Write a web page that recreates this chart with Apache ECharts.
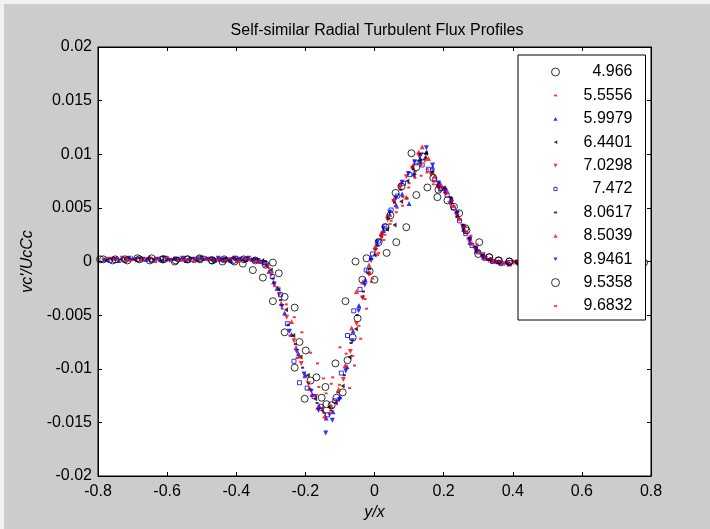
<!DOCTYPE html>
<html>
<head>
<meta charset="utf-8">
<script src="https://cdn.jsdelivr.net/npm/echarts@6/dist/echarts.min.js"></script>
<style>
html,body{margin:0;padding:0;background:#cccccc;}
#chart{width:710px;height:529px;}
</style>
</head>
<body>
<div id="chart"></div>
<script>
// ---- tick labels ----
const xTickLabels = ['-0.8','-0.6','-0.4','-0.2','0','0.2','0.4','0.6','0.8'];
const yTickLabels = ['-0.02','-0.015','-0.01','-0.005','0','0.005','0.01','0.015','0.02'];

// ---- series names (legend) ----
const seriesNames = ['4.966','5.5556','5.9979','6.4401','7.0298','7.472','8.0617','8.5039','8.9461','9.5358','9.6832'];

// ---- series values: [y/x, vc'/UcCc * 1000] ----
const s4966 = [[-0.794,0.2],[-0.758,0.1],[-0.722,0.2],[-0.686,0.3],[-0.65,0.1],[-0.614,0.2],[-0.578,0.0],[-0.542,0.2],[-0.506,0.3],[-0.47,0.1],[-0.435,0.2],[-0.405,0.0],[-0.381,-0.2],[-0.352,-0.8],[-0.323,-1.5],
 [-0.294,-0.1],[-0.277,-1.1],[-0.26,-3.3],[-0.231,-4.3],[-0.217,-7.5],[-0.199,-8.3],[-0.168,-10.8],[-0.142,-11.7],[-0.11,-12.7],[-0.092,-12.2],[-0.078,-9.2],[-0.063,-7.1],[-0.049,-5.3],[-0.035,-1.7],[-0.014,-0.9],
 [0.0,-1.7],[0.035,0.8],[0.063,1.8],[0.092,3.2],[0.121,6.2],[0.153,6.9],[0.182,6.0],[0.211,5.7],[0.245,4.5],[0.263,3.1],[0.303,1.8],[0.332,0.4],
 [0.36,0.1],[0.39,0.0],[0.42,-0.1],[0.455,0.0],[0.49,-0.2],[0.53,-0.1],[0.575,0.0],[0.62,-0.1],[0.67,0.0],[0.72,-0.1],[0.775,0.0]];
const s5556 = [[-0.785,0.2],[-0.745,0.3],[-0.705,0.2],[-0.665,0.1],[-0.625,0.3],[-0.585,0.2],[-0.55,0.3],[-0.515,0.1],[-0.48,0.2],[-0.45,0.3],[-0.42,0.1],[-0.39,0.2],[-0.36,0.2],[-0.335,0.1],
 [-0.305,-0.6],[-0.28,-2.4],[-0.255,-4.0],[-0.232,-5.2],[-0.21,-6.6],[-0.185,-8.5],[-0.165,-9.5],[-0.148,-10.9],[-0.125,-11.4],[-0.10,-8.0],[-0.072,-11.8],[-0.058,-9.7],[-0.04,-7.2],[-0.023,-4.4],[-0.005,-1.6],
 [0.012,0.8],[0.03,2.5],[0.048,3.8],[0.065,5.0],[0.082,6.0],[0.1,7.3],[0.118,8.4],[0.135,8.0],[0.152,8.3],[0.17,7.2],[0.188,6.6],[0.205,6.8],[0.222,5.9],[0.24,4.7],[0.258,3.4],[0.276,2.3],[0.295,1.3],
 [0.315,0.6],[0.335,0.3],[0.36,0.0],[0.385,-0.1],[0.41,-0.2],[0.44,0.0],[0.47,-0.1],[0.5,0.1],[0.54,-0.1],[0.58,0.0],[0.63,-0.1],[0.68,0.1],[0.73,0.0],[0.782,-0.1]];
const s5979 = [[-0.78,0.2],[-0.74,0.1],[-0.70,0.3],[-0.66,0.2],[-0.62,0.2],[-0.58,0.3],[-0.545,0.1],[-0.51,0.2],[-0.475,0.3],[-0.445,0.2],[-0.415,0.1],[-0.385,0.3],[-0.355,0.2],[-0.33,0.0],
 [-0.305,-0.9],[-0.282,-2.5],[-0.26,-4.8],[-0.24,-6.8],[-0.22,-8.6],[-0.2,-10.6],[-0.18,-12.4],[-0.16,-13.5],[-0.14,-14.6],[-0.12,-14.0],[-0.10,-12.6],[-0.08,-9.8],[-0.062,-6.5],[-0.045,-4.1],[-0.027,-1.7],[-0.01,0.4],
 [0.008,1.6],[0.026,2.9],[0.044,4.4],[0.062,5.3],[0.08,6.3],[0.1,5.4],[0.115,8.3],[0.132,9.6],[0.15,10.2],[0.168,8.8],[0.186,7.4],[0.204,6.9],[0.222,5.6],[0.24,4.3],[0.258,3.0],[0.276,1.8],[0.294,1.0],
 [0.315,0.4],[0.34,0.1],[0.365,-0.1],[0.39,-0.2],[0.42,-0.1],[0.45,0.0],[0.49,-0.1],[0.53,0.0],[0.58,-0.1],[0.64,0.0],[0.7,-0.1],[0.76,0.0]];
const s6440 = [[-0.775,0.1],[-0.735,0.2],[-0.695,0.2],[-0.655,0.3],[-0.615,0.1],[-0.578,0.2],[-0.54,0.2],[-0.505,0.3],[-0.47,0.1],[-0.44,0.2],[-0.41,0.3],[-0.38,0.1],[-0.35,0.2],[-0.325,0.1],
 [-0.3,-0.8],[-0.278,-2.6],[-0.256,-4.5],[-0.235,-6.9],[-0.214,-8.9],[-0.193,-10.6],[-0.172,-12.8],[-0.152,-13.9],[-0.132,-13.6],[-0.112,-13.2],[-0.092,-11.6],[-0.072,-8.9],[-0.054,-6.3],[-0.036,-3.3],[-0.018,-1.1],
 [0.0,0.6],[0.018,2.4],[0.036,3.0],[0.058,3.4],[0.077,5.6],[0.095,7.5],[0.113,8.0],[0.131,9.2],[0.149,10.1],[0.167,8.4],[0.185,6.9],[0.203,6.4],[0.221,5.8],[0.239,4.2],[0.257,3.2],[0.275,2.1],[0.293,1.1],
 [0.312,0.5],[0.332,0.2],[0.355,0.0],[0.38,-0.1],[0.405,0.0],[0.435,-0.2],[0.47,-0.1],[0.51,0.0],[0.56,-0.1],[0.62,0.0],[0.69,-0.1],[0.76,0.0]];
const s7030 = [[-0.77,0.2],[-0.73,0.3],[-0.69,0.1],[-0.65,0.2],[-0.61,0.3],[-0.572,0.2],[-0.535,0.1],[-0.5,0.3],[-0.468,0.2],[-0.436,0.1],[-0.405,0.3],[-0.376,0.2],[-0.348,0.1],[-0.322,-0.2],
 [-0.298,-1.2],[-0.276,-3.1],[-0.254,-5.2],[-0.233,-7.4],[-0.212,-9.5],[-0.191,-11.4],[-0.17,-12.6],[-0.15,-13.8],[-0.13,-14.3],[-0.11,-13.1],[-0.09,-11.0],[-0.07,-8.4],[-0.052,-5.8],[-0.034,-3.4],[-0.016,-1.2],
 [0.002,1.0],[0.02,2.2],[0.038,3.9],[0.056,5.6],[0.074,6.9],[0.092,7.9],[0.11,8.7],[0.128,9.9],[0.146,9.4],[0.164,8.1],[0.182,7.0],[0.2,6.7],[0.218,5.4],[0.236,4.4],[0.254,3.3],[0.272,2.0],[0.29,1.2],
 [0.31,0.5],[0.33,0.1],[0.352,-0.1],[0.376,-0.2],[0.402,-0.1],[0.43,0.0],[0.465,-0.2],[0.5,-0.1],[0.55,0.0],[0.61,-0.1],[0.67,0.0],[0.74,-0.1]];
const s7472 = [[-0.765,0.1],[-0.725,0.2],[-0.685,0.2],[-0.645,0.1],[-0.605,0.3],[-0.568,0.2],[-0.53,0.2],[-0.496,0.3],[-0.463,0.1],[-0.432,0.2],[-0.402,0.3],[-0.372,0.2],[-0.344,0.1],[-0.318,-0.1],
 [-0.296,-1.4],[-0.272,-3.1],[-0.252,-5.8],[-0.233,-9.3],[-0.217,-11.3],[-0.195,-11.8],[-0.175,-12.6],[-0.155,-13.5],[-0.136,-14.3],[-0.115,-13.0],[-0.096,-10.4],[-0.078,-6.9],[-0.06,-4.6],[-0.042,-2.6],[-0.024,-0.8],
 [-0.006,0.7],[0.012,1.9],[0.03,3.3],[0.048,4.8],[0.066,6.1],[0.084,7.3],[0.102,8.1],[0.12,9.2],[0.138,9.0],[0.156,8.6],[0.174,7.6],[0.192,6.8],[0.21,6.2],[0.228,5.0],[0.246,3.8],[0.264,2.6],[0.282,1.5],[0.3,0.9],
 [0.32,0.3],[0.342,0.0],[0.366,-0.2],[0.392,-0.1],[0.42,-0.2],[0.452,0.0],[0.485,-0.1],[0.52,-0.2],[0.57,0.0],[0.63,-0.1],[0.7,0.0],[0.77,-0.1]];
const s8062 = [[-0.76,0.2],[-0.72,0.2],[-0.68,0.3],[-0.64,0.2],[-0.60,0.1],[-0.563,0.2],[-0.527,0.3],[-0.492,0.2],[-0.46,0.1],[-0.429,0.3],[-0.4,0.2],[-0.37,0.1],[-0.342,0.2],[-0.316,0.0],
 [-0.294,-1.6],[-0.272,-3.6],[-0.25,-5.9],[-0.229,-7.7],[-0.208,-9.9],[-0.187,-11.9],[-0.166,-13.2],[-0.146,-14.1],[-0.126,-13.9],[-0.106,-12.2],[-0.087,-10.6],[-0.068,-7.6],[-0.05,-5.0],[-0.032,-2.8],[-0.014,-0.7],
 [0.004,1.2],[0.022,2.6],[0.04,4.0],[0.058,5.5],[0.076,6.7],[0.094,5.9],[0.112,8.6],[0.13,9.4],[0.148,9.7],[0.166,8.3],[0.184,7.1],[0.202,6.9],[0.22,6.0],[0.238,4.6],[0.256,3.4],[0.274,2.2],[0.292,1.4],
 [0.312,0.6],[0.334,0.2],[0.358,0.0],[0.383,-0.2],[0.41,-0.1],[0.44,-0.2],[0.475,0.0],[0.515,-0.1],[0.56,-0.2],[0.62,0.0],[0.68,-0.1],[0.75,0.0]];
const s8504 = [[-0.755,0.3],[-0.715,0.2],[-0.675,0.2],[-0.635,0.1],[-0.596,0.3],[-0.558,0.2],[-0.522,0.1],[-0.487,0.3],[-0.455,0.2],[-0.425,0.2],[-0.396,0.1],[-0.367,0.3],[-0.34,0.1],[-0.314,-0.3],
 [-0.292,-1.9],[-0.27,-3.9],[-0.24,-5.6],[-0.227,-8.0],[-0.217,-8.8],[-0.188,-11.8],[-0.164,-13.6],[-0.144,-14.4],[-0.124,-13.5],[-0.104,-11.9],[-0.085,-9.7],[-0.066,-6.2],[-0.052,-2.8],[-0.034,-1.9],[-0.016,-0.3],
 [0.002,1.4],[0.02,2.7],[0.038,4.3],[0.056,5.8],[0.074,7.2],[0.092,6.0],[0.11,8.9],[0.128,10.2],[0.138,10.7],[0.156,9.6],[0.174,8.0],[0.192,7.2],[0.21,6.6],[0.228,5.2],[0.246,4.0],[0.264,2.8],[0.282,1.7],[0.3,1.0],
 [0.32,0.4],[0.342,0.1],[0.366,-0.1],[0.392,-0.2],[0.42,-0.1],[0.45,-0.2],[0.485,0.0],[0.525,-0.1],[0.57,0.0],[0.63,-0.1],[0.69,0.0],[0.76,-0.1]];
const s8946 = [[-0.75,0.2],[-0.71,0.3],[-0.67,0.2],[-0.63,0.2],[-0.592,0.1],[-0.555,0.3],[-0.518,0.2],[-0.484,0.2],[-0.452,0.3],[-0.422,0.1],[-0.393,0.2],[-0.364,0.3],[-0.337,0.1],[-0.312,-0.4],
 [-0.29,-2.1],[-0.268,-4.2],[-0.246,-6.5],[-0.225,-8.4],[-0.204,-10.5],[-0.183,-12.1],[-0.162,-13.9],[-0.141,-16.0],[-0.122,-14.8],[-0.102,-12.9],[-0.083,-10.2],[-0.064,-7.4],[-0.046,-4.6],[-0.028,-2.2],[-0.01,0.1],
 [0.008,1.8],[0.026,3.1],[0.044,4.6],[0.062,5.9],[0.08,7.4],[0.098,8.2],[0.116,9.3],[0.134,9.9],[0.15,10.6],[0.168,9.0],[0.186,7.3],[0.204,6.6],[0.222,5.5],[0.24,4.5],[0.258,3.1],[0.276,2.0],[0.294,1.2],
 [0.314,0.5],[0.336,0.1],[0.36,-0.1],[0.386,-0.3],[0.414,-0.1],[0.444,-0.2],[0.478,-0.1],[0.518,0.0],[0.56,-0.1],[0.62,-0.2],[0.68,0.0],[0.75,-0.1]];
const s9536 = [[-0.785,0.2],[-0.75,0.2],[-0.715,0.1],[-0.68,0.2],[-0.645,0.3],[-0.61,0.2],[-0.575,0.1],[-0.54,0.2],[-0.505,0.2],[-0.47,0.1],[-0.44,0.0],[-0.41,0.1],[-0.378,0.2],[-0.345,0.1],[-0.315,-0.3],
 [-0.294,-3.7],[-0.26,-6.6],[-0.231,-9.9],[-0.202,-12.8],[-0.185,-11.1],[-0.153,-12.7],[-0.139,-13.3],[-0.124,-13.4],[-0.113,-9.5],[-0.084,-3.7],[-0.055,0.0],[-0.023,0.3],
 [0.012,1.8],[0.032,3.2],[0.046,4.3],[0.061,6.4],[0.078,7.0],[0.107,10.1],[0.121,8.8],[0.139,9.8],[0.17,7.8],[0.185,6.7],[0.23,5.1],[0.266,2.9],[0.3,0.7],
 [0.332,0.4],[0.358,0.1],[0.39,0.0],[0.425,-0.1],[0.46,0.0],[0.5,-0.1],[0.545,0.0],[0.6,-0.1],[0.66,0.0],[0.72,0.0],[0.78,-0.1]];
const s9683 = [[-0.745,0.2],[-0.705,0.1],[-0.665,0.3],[-0.626,0.2],[-0.588,0.2],[-0.551,0.1],[-0.515,0.3],[-0.481,0.2],[-0.449,0.2],[-0.419,0.3],[-0.39,0.1],[-0.362,0.2],[-0.335,0.0],[-0.31,-0.5],
 [-0.289,-2.3],[-0.267,-4.4],[-0.245,-6.9],[-0.224,-9.0],[-0.203,-10.8],[-0.182,-12.5],[-0.161,-11.7],[-0.14,-12.3],[-0.121,-10.8],[-0.101,-11.5],[-0.082,-8.6],[-0.063,-8.8],[-0.045,-6.0],[-0.027,-3.5],[-0.009,-1.9],
 [0.009,0.6],[0.027,2.0],[0.045,3.5],[0.063,4.6],[0.081,5.2],[0.099,6.9],[0.117,7.8],[0.135,9.0],[0.153,8.6],[0.171,7.5],[0.189,7.1],[0.207,6.3],[0.225,5.7],[0.243,4.1],[0.261,3.2],[0.279,2.4],[0.297,1.6],
 [0.316,0.8],[0.338,0.3],[0.362,0.0],[0.388,-0.1],[0.416,0.0],[0.446,-0.1],[0.48,-0.2],[0.52,0.0],[0.565,-0.1],[0.625,0.0],[0.69,-0.1],[0.755,0.0]];

const seriesValues = [s4966,s5556,s5979,s6440,s7030,s7472,s8062,s8504,s8946,s9536,s9683];

// ---- marker styles ----
const FONT = '"Liberation Sans", Arial, sans-serif';
const RED = '#ff0000', BLUE = '#0000ff', BLACK = '#000000';
const TRI_DOWN = 'path://M0,0L10,0L5,9Z';
const TRI_LEFT = 'path://M10,0L10,10L0,5Z';
const markers = {
  circle:  {symbol:'circle', size:7, hollow:true, icon:'circle'},
  dot:     {symbol:'rect', size:[3,2], icon:'path://M0,0M10,10M3,4L7,4L7,6.2L3,6.2Z'},
  triUp:   {symbol:'triangle', size:5, icon:'path://M0,0M10,10M5,2.8L7.6,7.4L2.4,7.4Z'},
  triDown: {symbol:TRI_DOWN, size:5, icon:'path://M0,0M10,10M2.4,2.8L7.6,2.8L5,7.4Z'},
  triLeft: {symbol:TRI_LEFT, size:[4,5], icon:'path://M0,0M10,10M7.2,2.6L7.2,7.4L3,5Z'},
  square:  {symbol:'rect', size:4, hollow:true, icon:'path://M0,0M10,10M3,3L7,3L7,7L3,7Z'}
};
const seriesMarker = ['circle','dot','triUp','triLeft','triDown','square','dot','triUp','triDown','circle','dot'];
const seriesColor = [BLACK,RED,BLUE,BLACK,RED,BLUE,BLACK,RED,BLUE,BLACK,RED];

function styleFor(i){
  const m = markers[seriesMarker[i]];
  const c = seriesColor[i];
  return m.hollow ? {color:'transparent', borderColor:c, borderWidth:1} : {color:c, borderWidth:0};
}

const series = seriesNames.map((name,i)=>{
  const m = markers[seriesMarker[i]];
  return {
    name: name,
    type: 'scatter',
    xAxisIndex: 0, yAxisIndex: 0,
    symbol: m.symbol,
    symbolSize: m.size,
    itemStyle: styleFor(i),
    emphasis: {disabled:true},
    silent: true,
    animation: false,
    data: seriesValues[i].map(p=>[p[0], p[1]/1000])
  };
});

const axisCommon = {
  axisLine: {show:true, onZero:false, lineStyle:{color:'#000', width:1}},
  axisTick: {show:true, inside:true, length:4, lineStyle:{color:'#000', width:1}},
  splitLine: {show:false}
};

const chart = echarts.init(document.getElementById('chart'), null, {renderer:'canvas'});
chart.setOption({
  backgroundColor: '#cccccc',
  animation: false,
  graphic: [
    {type:'rect', shape:{x:0,y:0,width:710,height:4}, style:{fill:'#f2f2f2'}, silent:true},
    {type:'rect', shape:{x:0,y:0,width:4,height:529}, style:{fill:'#f2f2f2'}, silent:true}
  ],
  title: {
    text: 'Self-similar Radial Turbulent Flux Profiles',
    left: 372, top: 18, textAlign: 'center',
    textStyle: {fontFamily: FONT, fontSize: 16, fontWeight: 'normal', color: '#000'}
  },
  grid: {left: 98, right: 59, top: 47, bottom: 53, show: true, backgroundColor: '#ffffff', borderColor: '#000', borderWidth: 1},
  legend: {
    orient: 'vertical',
    left: 518, top: 55,
    padding: [9, 13, 6, 33],
    itemWidth: 8, itemHeight: 8,
    itemGap: 7.4,
    backgroundColor: '#ffffff',
    borderColor: '#000', borderWidth: 1,
    selectedMode: false,
    data: seriesNames.map((n,i)=>({name:n, icon: markers[seriesMarker[i]].icon, itemStyle: styleFor(i)})),
    formatter: n => '{r|' + n + '}',
    textStyle: {
      color: '#000', fontFamily: FONT, fontSize: 16,
      rich: {r: {width: 68, align: 'right', fontSize: 16, lineHeight: 16, fontFamily: FONT, color:'#000'}}
    }
  },
  xAxis: [
    Object.assign({}, axisCommon, {
      type:'value', position:'bottom', min:-0.8, max:0.8, interval:0.2,
      axisLabel: {color:'#000', fontFamily: FONT, fontSize: 16, margin: 8, formatter: (v,idx)=>xTickLabels[idx]},
      name: 'y/x', nameLocation: 'middle', nameGap: 24,
      nameTextStyle: {color:'#000', fontFamily: FONT, fontSize: 16, fontStyle: 'italic'}
    }),
    Object.assign({}, axisCommon, {
      type:'value', position:'top', min:-0.8, max:0.8, interval:0.2,
      axisLabel: {show:false}
    })
  ],
  yAxis: [
    Object.assign({}, axisCommon, {
      type:'value', position:'left', min:-0.02, max:0.02, interval:0.005,
      axisLabel: {color:'#000', fontFamily: FONT, fontSize: 16, margin: 6, formatter: (v,idx)=>yTickLabels[idx]},
      name: "vc'/UcCc", nameLocation: 'middle', nameGap: 62,
      nameTextStyle: {color:'#000', fontFamily: FONT, fontSize: 16, fontStyle: 'italic'}
    }),
    Object.assign({}, axisCommon, {
      type:'value', position:'right', min:-0.02, max:0.02, interval:0.005,
      axisLabel: {show:false}
    })
  ],
  series: series
});
</script>
</body>
</html>
